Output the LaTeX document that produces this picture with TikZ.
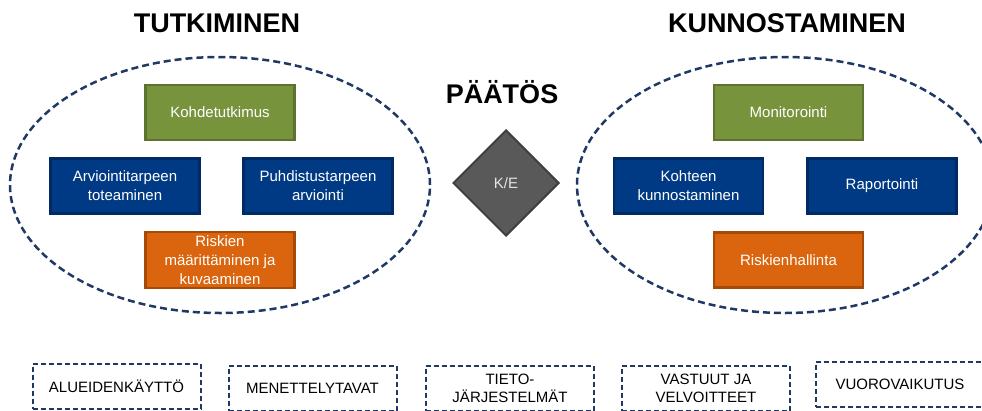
\documentclass[tikz,border=0pt]{standalone}
\usepackage{fontspec}
\setmainfont{Liberation Sans}
\usetikzlibrary{shapes.geometric}
\definecolor{vihrea}{HTML}{77933C}
\definecolor{vihreareuna}{HTML}{5C7430}
\definecolor{sininen}{HTML}{003A84}
\definecolor{sininenreuna}{HTML}{002A63}
\definecolor{oranssi}{HTML}{DB650E}
\definecolor{oranssireuna}{HTML}{A54B07}
\definecolor{harmaa}{HTML}{595959}
\definecolor{harmaareuna}{HTML}{3F3F3F}
\definecolor{navy}{HTML}{1F3864}
\tikzset{%
  ttl/.style = {font=\fontsize{27}{30}\selectfont\bfseries},
  box/.style = {rectangle,draw,line width=2.5pt,text=white,align=center,
        minimum width=149pt,minimum height=55pt,
        font=\fontsize{15}{19}\selectfont},
  gbox/.style = {box,fill=vihrea,draw=vihreareuna},
  bbox/.style = {box,fill=sininen,draw=sininenreuna},
  obox/.style = {box,fill=oranssi,draw=oranssireuna},
  dbox/.style = {rectangle,draw=navy,line width=2pt,dash pattern=on 5pt off 3pt,
        align=center,minimum width=168pt,minimum height=45pt,
        font=\fontsize{15}{18}\selectfont},
  alue/.style = {draw=navy,line width=2.5pt,dash pattern=on 7pt off 4pt}
}

\begin{document}
\begin{tikzpicture}[x=1pt,y=-1pt]
\useasboundingbox (0,0) rectangle (982,410);
\clip (0,0) rectangle (982,410);

% otsikot
\node[ttl] (tutk) at (217,23) {TUTKIMINEN};
\node[ttl] (kunn) at (787,23) {KUNNOSTAMINEN};
\node[ttl] (paat) at (502,92) {PÄÄTÖS};

% alueet
\draw[alue] (220,185) ellipse [x radius=210pt, y radius=128pt];
\draw[alue] (785,185) ellipse [x radius=208pt, y radius=128pt];

% tutkiminen
\node[gbox] (kohde) at (220,112.5) {Kohdetutkimus};
\node[bbox] (arv) at (125,186) {Arviointitarpeen\\toteaminen};
\node[bbox] (puh) at (318,186) {Puhdistustarpeen\\arviointi};
\node[obox] (risk) at (220,260) {Riskien\\määrittäminen ja\\kuvaaminen};

% paatos
\node[diamond,draw=harmaareuna,fill=harmaa,line width=2pt,text=white!90!black,
      minimum width=106pt,minimum height=106pt,font=\fontsize{15}{18}\selectfont]
      (ke) at (506,183) {K/E};

% kunnostaminen
\node[gbox] (mon) at (788.5,112.5) {Monitorointi};
\node[bbox] (kunt) at (688.5,186) {Kohteen\\kunnostaminen};
\node[bbox] (rap) at (882,186) {Raportointi};
\node[obox] (rhal) at (788.5,260) {Riskienhallinta};

% alarivi
\node[dbox] (a1) at (116.5,386) {ALUEIDENKÄYTTÖ};
\node[dbox] (a2) at (312.5,388) {MENETTELYTAVAT};
\node[dbox] (a3) at (510,388) {TIETO-\\JÄRJESTELMÄT};
\node[dbox] (a4) at (706,388) {VASTUUT JA\\VELVOITTEET};
\node[dbox] (a5) at (900,384) {VUOROVAIKUTUS};
\end{tikzpicture}
\end{document}
